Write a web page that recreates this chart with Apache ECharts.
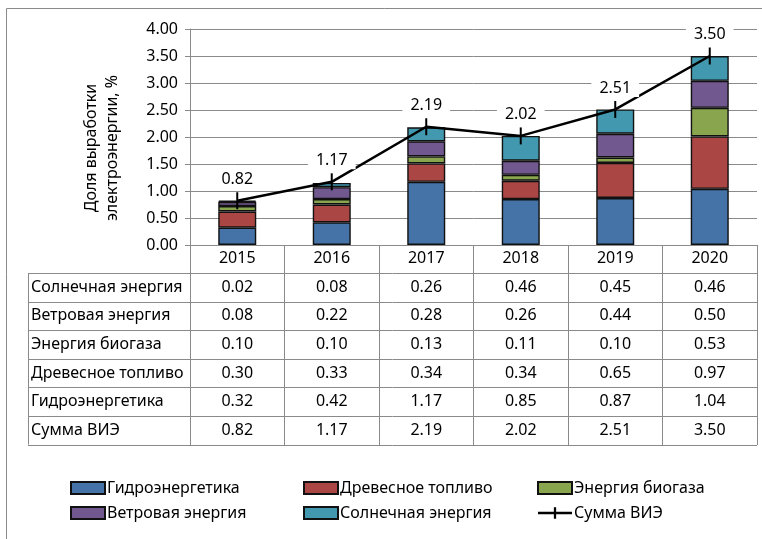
<!DOCTYPE html>
<html>
<head>
<meta charset="utf-8">
<script src="https://cdn.jsdelivr.net/npm/echarts@6/dist/echarts.min.js"></script>
<style>
  html, body { margin: 0; padding: 0; background: #fff; }
  #chart { width: 762px; height: 539px; }
</style>
</head>
<body>
<div id="chart"></div>
<script>
// годы и доли выработки по видам ВИЭ, %
var years = ['2015', '2016', '2017', '2018', '2019', '2020'];
var hydro = [0.32, 0.42, 1.17, 0.85, 0.87, 1.04];
var wood = [0.30, 0.33, 0.34, 0.34, 0.65, 0.97];
var biogas = [0.10, 0.10, 0.13, 0.11, 0.10, 0.53];
var wind = [0.08, 0.22, 0.28, 0.26, 0.44, 0.50];
var solar = [0.02, 0.08, 0.26, 0.46, 0.45, 0.46];
var total = [0.82, 1.17, 2.19, 2.02, 2.51, 3.50];

var names = ['Гидроэнергетика', 'Древесное топливо', 'Энергия биогаза', 'Ветровая энергия', 'Солнечная энергия', 'Сумма ВИЭ'];
var colors = ['#4572A7', '#AA4643', '#89A54E', '#71588F', '#4198AF'];

// строки таблицы данных под графиком
var tableRows = [
    ['Солнечная энергия', solar],
    ['Ветровая энергия', wind],
    ['Энергия биогаза', biogas],
    ['Древесное топливо', wood],
    ['Гидроэнергетика', hydro],
    ['Сумма ВИЭ', total]
];

var FONT = 'Noto Sans';
var FS = 16;
var gridColor = '#8a8a8a';
var plusIcon = 'path://M0,4H14V0H16V4H30V6H16V10H14V6H0Z';

var myChart = echarts.init(document.getElementById('chart'));

function barSeries(name, data, color) {
    return {
        name: name,
        type: 'bar',
        stack: 'total',
        barWidth: 38,
        data: data,
        itemStyle: { color: color, borderColor: '#111', borderWidth: 1.4 }
    };
}

var legendBase = {
    orient: 'vertical',
    top: 475,
    icon: 'rect',
    itemWidth: 34,
    itemHeight: 12,
    itemGap: 9,
    textStyle: { fontFamily: FONT, fontSize: FS, color: '#000', padding: [0, 0, 0, -3] }
};

myChart.setOption({
    animation: false,
    textStyle: { fontFamily: FONT },
    grid: { left: 190, right: 5, top: 29, bottom: 294 },
    legend: [
        Object.assign({ left: 65, data: [names[0], names[3]] }, legendBase),
        Object.assign({ left: 298, data: [names[1], names[4]] }, legendBase),
        Object.assign({ left: 532, data: [names[2], { name: names[5], icon: plusIcon }] }, legendBase)
    ],
    xAxis: {
        type: 'category',
        data: years,
        axisLine: { lineStyle: { color: gridColor } },
        axisTick: { show: true, length: 200, lineStyle: { color: gridColor } },
        axisLabel: { color: '#000', fontSize: FS, margin: 5 }
    },
    yAxis: {
        type: 'value',
        min: 0,
        max: 4,
        interval: 0.5,
        axisLine: { show: true, lineStyle: { color: gridColor } },
        axisTick: { show: true, length: 5, lineStyle: { color: gridColor } },
        splitLine: { lineStyle: { color: gridColor } },
        axisLabel: {
            color: '#000', fontSize: FS, margin: 12,
            formatter: function (v) { return v.toFixed(2); }
        }
    },
    series: [
        barSeries(names[0], hydro, colors[0]),
        barSeries(names[1], wood, colors[1]),
        barSeries(names[2], biogas, colors[2]),
        barSeries(names[3], wind, colors[3]),
        barSeries(names[4], solar, colors[4]),
        {
            name: names[5],
            type: 'line',
            data: total,
            z: 5,
            symbol: 'rect',
            symbolSize: [2, 17],
            itemStyle: { color: '#000' },
            lineStyle: { color: '#000', width: 2.5 },
            label: {
                show: true,
                position: 'top',
                distance: 4,
                color: '#000',
                fontSize: FS,
                backgroundColor: '#fff',
                padding: [1, 8],
                formatter: function (p) { return p.value.toFixed(2); }
            }
        }
    ]
});

// таблица данных, рамка и подпись оси
function buildGraphic() {
    var els = [];
    var c0 = myChart.convertToPixel({ xAxisIndex: 0 }, years[0]);
    var c1 = myChart.convertToPixel({ xAxisIndex: 0 }, years[1]);
    var colW = c1 - c0;
    var rightX = c0 - colW / 2 + colW * years.length;
    var labelLeft = 28;
    var rowTop = 273;
    var rowH = 28.6;

    els.push({
        type: 'rect', silent: true,
        shape: { x: 6.5, y: 8.5, width: 900, height: 900 },
        style: { fill: null, stroke: gridColor, lineWidth: 1 }
    });

    for (var r = 0; r <= tableRows.length; r++) {
        var y = Math.round(rowTop + r * rowH) + 0.5;
        els.push({
            type: 'line', silent: true,
            shape: { x1: labelLeft, y1: y, x2: rightX, y2: y },
            style: { stroke: gridColor, lineWidth: 1 }
        });
    }
    els.push({
        type: 'line', silent: true,
        shape: { x1: labelLeft + 0.5, y1: rowTop, x2: labelLeft + 0.5, y2: rowTop + rowH * tableRows.length },
        style: { stroke: gridColor, lineWidth: 1 }
    });

    tableRows.forEach(function (row, r) {
        var cy = rowTop + r * rowH + rowH / 2;
        els.push({
            type: 'text', silent: true,
            x: labelLeft + 3, y: cy,
            style: { text: row[0], fontFamily: FONT, fontSize: FS, fill: '#000', verticalAlign: 'middle' }
        });
        row[1].forEach(function (v, i) {
            var cx = myChart.convertToPixel({ xAxisIndex: 0 }, years[i]);
            els.push({
                type: 'text', silent: true,
                x: cx, y: cy,
                style: { text: v.toFixed(2), fontFamily: FONT, fontSize: FS, fill: '#000', align: 'center', verticalAlign: 'middle' }
            });
        });
    });

    els.push({
        type: 'text', silent: true,
        x: 102, y: 148,
        rotation: Math.PI / 2,
        style: {
            text: 'Доля выработки\nэлектроэнергии, %',
            fontFamily: FONT, fontSize: FS, fill: '#000',
            align: 'center', verticalAlign: 'middle', lineHeight: 21
        }
    });

    myChart.setOption({ graphic: { elements: els } });
}

buildGraphic();
</script>
</body>
</html>
